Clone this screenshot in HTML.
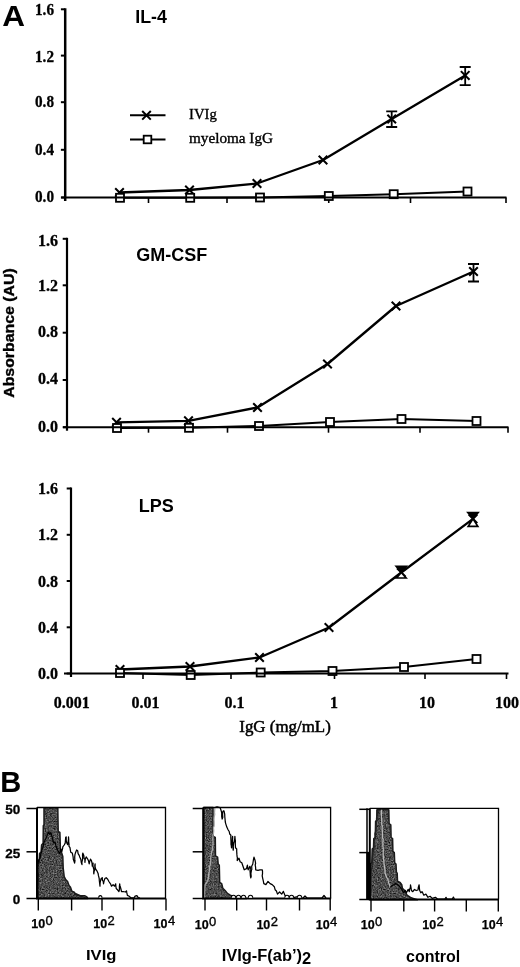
<!DOCTYPE html>
<html><head><meta charset="utf-8"><title>Figure</title>
<style>html,body{margin:0;padding:0;background:#fff}svg{display:block}</style></head>
<body>
<svg width="520" height="967" viewBox="0 0 520 967">
<rect width="520" height="967" fill="#fff"/>
<defs><filter id="nz" x="0" y="0" width="100%" height="100%" color-interpolation-filters="sRGB"><feTurbulence type="fractalNoise" baseFrequency="0.75" numOctaves="2" seed="11" result="n"/><feColorMatrix in="n" type="matrix" values="0.4 0.4 0.4 0 -0.3  0.4 0.4 0.4 0 -0.3  0.4 0.4 0.4 0 -0.3  0 0 0 0 1" result="g"/><feComposite in="g" in2="SourceGraphic" operator="in"/></filter></defs>
<text x="2.8" y="25.5" font-family="'Liberation Sans', sans-serif" font-size="30" font-weight="bold" text-anchor="start" transform="translate(2.8 0) scale(1.05 1) translate(-3.3 0)">A</text>
<text x="0.2" y="792.3" font-family="'Liberation Sans', sans-serif" font-size="30" font-weight="bold" text-anchor="start" transform="scale(0.97 1)">B</text>
<path d="M65.2 8.3V201.0" stroke="#000" stroke-width="2.5" fill="none"/>
<path d="M60.900000000000006 197.5H65.2" stroke="#000" stroke-width="2"/>
<text x="54.0" y="202.5" font-family="'Liberation Serif', serif" font-size="16" font-weight="bold" text-anchor="end" stroke="#000" stroke-width="0.3" transform="translate(54 0) scale(0.95 1) translate(-54 0)">0.0</text>
<path d="M60.900000000000006 149.8H65.2" stroke="#000" stroke-width="2"/>
<text x="54.0" y="155.5" font-family="'Liberation Serif', serif" font-size="16" font-weight="bold" text-anchor="end" stroke="#000" stroke-width="0.3" transform="translate(54 0) scale(0.95 1) translate(-54 0)">0.4</text>
<path d="M60.900000000000006 102.2H65.2" stroke="#000" stroke-width="2"/>
<text x="54.0" y="107.5" font-family="'Liberation Serif', serif" font-size="16" font-weight="bold" text-anchor="end" stroke="#000" stroke-width="0.3" transform="translate(54 0) scale(0.95 1) translate(-54 0)">0.8</text>
<path d="M60.900000000000006 55.6H65.2" stroke="#000" stroke-width="2"/>
<text x="54.0" y="62.5" font-family="'Liberation Serif', serif" font-size="16" font-weight="bold" text-anchor="end" stroke="#000" stroke-width="0.3" transform="translate(54 0) scale(0.95 1) translate(-54 0)">1.2</text>
<path d="M60.900000000000006 9.3H65.2" stroke="#000" stroke-width="2"/>
<text x="54.0" y="14.8" font-family="'Liberation Serif', serif" font-size="16" font-weight="bold" text-anchor="end" stroke="#000" stroke-width="0.3" transform="translate(54 0) scale(0.95 1) translate(-54 0)">1.6</text>
<path d="M148.5 197.5V203.0" stroke="#000" stroke-width="1.6"/>
<path d="M227 197.5V203.0" stroke="#000" stroke-width="1.6"/>
<path d="M328.75 197.5V203.0" stroke="#000" stroke-width="1.6"/>
<path d="M410.5 197.5V203.0" stroke="#000" stroke-width="1.6"/>
<path d="M506 197.5V203.0" stroke="#000" stroke-width="1.6"/>
<text x="135.3" y="23.2" font-family="'Liberation Sans', sans-serif" font-size="17.8" font-weight="bold" text-anchor="start" >IL-4</text>
<polyline points="120.0,197.8 190.2,197.8 260.0,197.5 328.8,196.0 393.7,194.2 467.5,191.5" fill="none" stroke="#000" stroke-width="2" stroke-linejoin="round"/>
<polyline points="119.5,192.5 189.5,190.0 257.0,183.5 323.0,160.0 391.7,119.0 465.2,75.4" fill="none" stroke="#000" stroke-width="2.3" stroke-linejoin="round"/>
<path d="M391.7 111.4V127.0M386.2 111.4H397.2M386.2 127.0H397.2" stroke="#000" stroke-width="1.8" fill="none"/>
<path d="M465.2 67.0V85.2M459.7 67.0H470.7M459.7 85.2H470.7" stroke="#000" stroke-width="1.8" fill="none"/>
<path d="M115.2 188.2L123.8 196.8M115.2 196.8L123.8 188.2" stroke="#000" stroke-width="2.0" fill="none"/>
<path d="M185.2 185.7L193.8 194.3M185.2 194.3L193.8 185.7" stroke="#000" stroke-width="2.0" fill="none"/>
<path d="M252.7 179.2L261.3 187.8M252.7 187.8L261.3 179.2" stroke="#000" stroke-width="2.0" fill="none"/>
<path d="M318.7 155.7L327.3 164.3M318.7 164.3L327.3 155.7" stroke="#000" stroke-width="2.0" fill="none"/>
<path d="M387.4 114.7L396.0 123.3M387.4 123.3L396.0 114.7" stroke="#000" stroke-width="2.0" fill="none"/>
<path d="M460.9 71.1L469.5 79.7M460.9 79.7L469.5 71.1" stroke="#000" stroke-width="2.0" fill="none"/>
<rect x="116.0" y="193.8" width="8.0" height="8.0" fill="#fff" stroke="#000" stroke-width="1.8"/>
<rect x="186.2" y="193.8" width="8.0" height="8.0" fill="#fff" stroke="#000" stroke-width="1.8"/>
<rect x="256.0" y="193.5" width="8.0" height="8.0" fill="#fff" stroke="#000" stroke-width="1.8"/>
<rect x="324.8" y="192.0" width="8.0" height="8.0" fill="#fff" stroke="#000" stroke-width="1.8"/>
<rect x="389.7" y="190.2" width="8.0" height="8.0" fill="#fff" stroke="#000" stroke-width="1.8"/>
<rect x="463.5" y="187.5" width="8.0" height="8.0" fill="#fff" stroke="#000" stroke-width="1.8"/>
<path d="M61.2 197.5H506.5" stroke="#000" stroke-width="2" fill="none"/>
<path d="M67 237.8V430.7" stroke="#000" stroke-width="2.2" fill="none"/>
<path d="M62.7 427.2H67" stroke="#000" stroke-width="2"/>
<text x="58.0" y="431.5" font-family="'Liberation Serif', serif" font-size="16" font-weight="bold" text-anchor="end" stroke="#000" stroke-width="0.3">0.0</text>
<path d="M62.7 380.0H67" stroke="#000" stroke-width="2"/>
<text x="58.0" y="384.3" font-family="'Liberation Serif', serif" font-size="16" font-weight="bold" text-anchor="end" stroke="#000" stroke-width="0.3">0.4</text>
<path d="M62.7 332.7H67" stroke="#000" stroke-width="2"/>
<text x="58.0" y="336.5" font-family="'Liberation Serif', serif" font-size="16" font-weight="bold" text-anchor="end" stroke="#000" stroke-width="0.3">0.8</text>
<path d="M62.7 285.3H67" stroke="#000" stroke-width="2"/>
<text x="58.0" y="291.3" font-family="'Liberation Serif', serif" font-size="16" font-weight="bold" text-anchor="end" stroke="#000" stroke-width="0.3">1.2</text>
<path d="M62.7 238.8H67" stroke="#000" stroke-width="2"/>
<text x="58.0" y="246.2" font-family="'Liberation Serif', serif" font-size="16" font-weight="bold" text-anchor="end" stroke="#000" stroke-width="0.3">1.6</text>
<path d="M148.5 427.2V432.7" stroke="#000" stroke-width="1.6"/>
<path d="M227.5 427.2V432.7" stroke="#000" stroke-width="1.6"/>
<path d="M328.5 427.2V432.7" stroke="#000" stroke-width="1.6"/>
<path d="M420 427.2V432.7" stroke="#000" stroke-width="1.6"/>
<path d="M508 427.2V432.7" stroke="#000" stroke-width="1.6"/>
<text x="136.3" y="261.3" font-family="'Liberation Sans', sans-serif" font-size="18" font-weight="bold" text-anchor="start" >GM-CSF</text>
<polyline points="117.0,428.0 189.0,427.8 259.0,426.0 330.0,422.0 401.5,419.0 476.5,421.0" fill="none" stroke="#000" stroke-width="2" stroke-linejoin="round"/>
<polyline points="116.5,422.3 188.5,420.8 257.5,407.5 327.5,364.0 396.0,306.0 473.5,271.5" fill="none" stroke="#000" stroke-width="2.3" stroke-linejoin="round"/>
<path d="M473.5 264.0V281.5M468.0 264.0H479.0M468.0 281.5H479.0" stroke="#000" stroke-width="1.8" fill="none"/>
<path d="M112.2 418.0L120.8 426.6M112.2 426.6L120.8 418.0" stroke="#000" stroke-width="2.0" fill="none"/>
<path d="M184.2 416.5L192.8 425.1M184.2 425.1L192.8 416.5" stroke="#000" stroke-width="2.0" fill="none"/>
<path d="M253.2 403.2L261.8 411.8M253.2 411.8L261.8 403.2" stroke="#000" stroke-width="2.0" fill="none"/>
<path d="M323.2 359.7L331.8 368.3M323.2 368.3L331.8 359.7" stroke="#000" stroke-width="2.0" fill="none"/>
<path d="M391.7 301.7L400.3 310.3M391.7 310.3L400.3 301.7" stroke="#000" stroke-width="2.0" fill="none"/>
<path d="M469.2 267.2L477.8 275.8M469.2 275.8L477.8 267.2" stroke="#000" stroke-width="2.0" fill="none"/>
<rect x="113.0" y="424.0" width="8.0" height="8.0" fill="#fff" stroke="#000" stroke-width="1.8"/>
<rect x="185.0" y="423.8" width="8.0" height="8.0" fill="#fff" stroke="#000" stroke-width="1.8"/>
<rect x="255.0" y="422.0" width="8.0" height="8.0" fill="#fff" stroke="#000" stroke-width="1.8"/>
<rect x="326.0" y="418.0" width="8.0" height="8.0" fill="#fff" stroke="#000" stroke-width="1.8"/>
<rect x="397.5" y="415.0" width="8.0" height="8.0" fill="#fff" stroke="#000" stroke-width="1.8"/>
<rect x="472.5" y="417.0" width="8.0" height="8.0" fill="#fff" stroke="#000" stroke-width="1.8"/>
<path d="M63 427.2H508.5" stroke="#000" stroke-width="2" fill="none"/>
<path d="M71 487.5V677.0" stroke="#000" stroke-width="2.2" fill="none"/>
<path d="M66.7 673.5H71" stroke="#000" stroke-width="2"/>
<text x="58.0" y="679.0" font-family="'Liberation Serif', serif" font-size="16" font-weight="bold" text-anchor="end" stroke="#000" stroke-width="0.3">0.0</text>
<path d="M66.7 627.3H71" stroke="#000" stroke-width="2"/>
<text x="58.0" y="632.8" font-family="'Liberation Serif', serif" font-size="16" font-weight="bold" text-anchor="end" stroke="#000" stroke-width="0.3">0.4</text>
<path d="M66.7 581.0H71" stroke="#000" stroke-width="2"/>
<text x="58.0" y="586.5" font-family="'Liberation Serif', serif" font-size="16" font-weight="bold" text-anchor="end" stroke="#000" stroke-width="0.3">0.8</text>
<path d="M66.7 534.8H71" stroke="#000" stroke-width="2"/>
<text x="58.0" y="540.3" font-family="'Liberation Serif', serif" font-size="16" font-weight="bold" text-anchor="end" stroke="#000" stroke-width="0.3">1.2</text>
<path d="M66.7 488.5H71" stroke="#000" stroke-width="2"/>
<text x="58.0" y="494.0" font-family="'Liberation Serif', serif" font-size="16" font-weight="bold" text-anchor="end" stroke="#000" stroke-width="0.3">1.6</text>
<path d="M143 673.5V679.0" stroke="#000" stroke-width="1.6"/>
<path d="M231 673.5V679.0" stroke="#000" stroke-width="1.6"/>
<path d="M334.5 673.5V679.0" stroke="#000" stroke-width="1.6"/>
<path d="M425 673.5V679.0" stroke="#000" stroke-width="1.6"/>
<path d="M506.5 673.5V679.0" stroke="#000" stroke-width="1.6"/>
<text x="138.7" y="511.6" font-family="'Liberation Sans', sans-serif" font-size="18" font-weight="bold" text-anchor="start" >LPS</text>
<polyline points="120.0,673.0 190.7,675.0 260.7,672.5 332.5,671.0 404.0,667.0 476.5,659.0" fill="none" stroke="#000" stroke-width="2" stroke-linejoin="round"/>
<polyline points="120.0,669.5 190.0,666.5 259.5,657.5 329.0,627.5 401.3,572.5 473.0,518.8" fill="none" stroke="#000" stroke-width="2.3" stroke-linejoin="round"/>
<path d="M115.7 665.2L124.3 673.8M115.7 673.8L124.3 665.2" stroke="#000" stroke-width="2.0" fill="none"/>
<path d="M185.7 662.2L194.3 670.8M185.7 670.8L194.3 662.2" stroke="#000" stroke-width="2.0" fill="none"/>
<path d="M255.2 653.2L263.8 661.8M255.2 661.8L263.8 653.2" stroke="#000" stroke-width="2.0" fill="none"/>
<path d="M324.7 623.2L333.3 631.8M324.7 631.8L333.3 623.2" stroke="#000" stroke-width="2.0" fill="none"/>
<path d="M397.0 568.2L405.6 576.8M397.0 576.8L405.6 568.2" stroke="#000" stroke-width="2.0" fill="none"/>
<path d="M468.7 514.5L477.3 523.1M468.7 523.1L477.3 514.5" stroke="#000" stroke-width="2.0" fill="none"/>
<rect x="116.0" y="669.0" width="8.0" height="8.0" fill="#fff" stroke="#000" stroke-width="1.8"/>
<rect x="186.7" y="671.0" width="8.0" height="8.0" fill="#fff" stroke="#000" stroke-width="1.8"/>
<rect x="256.7" y="668.5" width="8.0" height="8.0" fill="#fff" stroke="#000" stroke-width="1.8"/>
<rect x="328.5" y="667.0" width="8.0" height="8.0" fill="#fff" stroke="#000" stroke-width="1.8"/>
<rect x="400.0" y="663.0" width="8.0" height="8.0" fill="#fff" stroke="#000" stroke-width="1.8"/>
<rect x="472.5" y="655.0" width="8.0" height="8.0" fill="#fff" stroke="#000" stroke-width="1.8"/>
<path d="M64 673.5H508.5" stroke="#000" stroke-width="2" fill="none"/>
<path d="M395.90000000000003 566.3H406.7L401.3 572.5Z" fill="#000" stroke="#000" stroke-width="1.4"/>
<path d="M396.5 578H406.1L401.3 572.5Z" fill="#fff" stroke="#000" stroke-width="1.7" stroke-linejoin="miter"/>
<path d="M467.6 512.5H478.4L473 518.8Z" fill="#000" stroke="#000" stroke-width="1.4"/>
<path d="M468.2 526.3H477.8L473 518.8Z" fill="#fff" stroke="#000" stroke-width="1.7" stroke-linejoin="miter"/>
<path d="M130 115.3H165.5M130 139.5H165.5" stroke="#000" stroke-width="2"/>
<path d="M142.2 111.0L150.8 119.6M142.2 119.6L150.8 111.0" stroke="#000" stroke-width="2.0" fill="none"/>
<rect x="143.7" y="135.7" width="7.6" height="7.6" fill="#fff" stroke="#000" stroke-width="1.8"/>
<text x="189.0" y="118.8" font-family="'Liberation Serif', serif" font-size="14.7" font-weight="normal" text-anchor="start" stroke="#000" stroke-width="0.35">IVIg</text>
<text x="189.0" y="142.8" font-family="'Liberation Serif', serif" font-size="14.3" font-weight="normal" text-anchor="start" stroke="#000" stroke-width="0.35" textLength="84" lengthAdjust="spacingAndGlyphs">myeloma IgG</text>
<text transform="translate(14.2 397.8) rotate(-90)" font-family="'Liberation Sans', sans-serif" font-size="15.3" font-weight="bold" stroke="#000" stroke-width="0.35" textLength="129.5" lengthAdjust="spacingAndGlyphs">Absorbance (AU)</text>
<text x="71.7" y="707.6" font-family="'Liberation Serif', serif" font-size="16" font-weight="bold" text-anchor="middle" stroke="#000" stroke-width="0.3">0.001</text>
<text x="145.5" y="707.6" font-family="'Liberation Serif', serif" font-size="16" font-weight="bold" text-anchor="middle" stroke="#000" stroke-width="0.3">0.01</text>
<text x="234.5" y="707.6" font-family="'Liberation Serif', serif" font-size="16" font-weight="bold" text-anchor="middle" stroke="#000" stroke-width="0.3">0.1</text>
<text x="334.0" y="707.6" font-family="'Liberation Serif', serif" font-size="16" font-weight="bold" text-anchor="middle" stroke="#000" stroke-width="0.3">1</text>
<text x="427.0" y="707.6" font-family="'Liberation Serif', serif" font-size="16" font-weight="bold" text-anchor="middle" stroke="#000" stroke-width="0.3">10</text>
<text x="507.0" y="707.6" font-family="'Liberation Serif', serif" font-size="16" font-weight="bold" text-anchor="middle" stroke="#000" stroke-width="0.3">100</text>
<text x="239.3" y="732.0" font-family="'Liberation Serif', serif" font-size="16.5" font-weight="normal" text-anchor="start" stroke="#000" stroke-width="0.5" textLength="91.5" lengthAdjust="spacingAndGlyphs">IgG (mg/mL)</text>
<polygon filter="url(#nz)" points="37.8,898.4 37.8,864.2 39.2,862.3 39.5,853.7 41.1,851.7 41.6,845.0 43.1,843.1 43.3,825.8 44.0,824.8 44.0,807.7 57.8,807.7 58.0,820.0 58.2,831.5 59.9,832.5 60.4,848.8 62.8,856.5 63.2,868.1 64.2,876.7 65.7,879.6 67.6,881.5 69.0,885.4 70.5,887.3 71.9,891.2 74.3,892.1 75.3,894.0 77.2,895.0 80.1,896.0 82.0,896.4 74.6,893.1 76.9,895.1 80.0,895.7 84.6,895.7 86.9,896.9 87.7,898.5 37.8,898.5" fill="#4a4a4a" stroke="none" stroke-width="0" stroke-linejoin="round"/>
<polygon points="37.8,898.4 37.8,864.2 39.2,862.3 39.5,853.7 41.1,851.7 41.6,845.0 43.1,843.1 43.3,825.8 44.0,824.8 44.0,807.7 57.8,807.7 58.0,820.0 58.2,831.5 59.9,832.5 60.4,848.8 62.8,856.5 63.2,868.1 64.2,876.7 65.7,879.6 67.6,881.5 69.0,885.4 70.5,887.3 71.9,891.2 74.3,892.1 75.3,894.0 77.2,895.0 80.1,896.0 82.0,896.4 74.6,893.1 76.9,895.1 80.0,895.7 84.6,895.7 86.9,896.9 87.7,898.5 37.8,898.5" fill="none" stroke="#1a1a1a" stroke-width="1.5" stroke-linejoin="round"/>
<polyline points="37.8,898.4 37.6,895.7 37.9,893.6 37.8,892.1 37.5,890.3 37.4,888.2 37.5,885.6 37.7,884.9 37.5,881.8 37.9,881.1 37.8,878.1 38.1,875.5 38.0,873.9 37.5,871.6 37.6,870.8 37.5,868.4 37.9,866.0 37.8,864.2 38.4,861.5 38.7,859.9 39.7,858.5 40.5,856.1 40.8,854.1 41.6,851.7 42.2,848.8 43.1,847.0 43.5,844.0 44.3,841.8 45.5,839.2 46.4,837.5 47.4,834.4 48.8,832.0 49.8,834.4 50.8,832.5 51.7,835.4 52.7,839.2 53.6,843.1 55.1,842.1 56.0,846.0 57.0,848.8 58.4,851.7 59.9,853.7 60.5,850.9 60.8,848.8 61.8,851.7 62.6,848.6 62.8,846.9 64.2,845.0 65.2,843.1 65.4,840.7 65.7,837.3 66.2,836.9 66.2,839.0 66.3,841.3 66.9,843.1 67.7,844.6 68.1,842.2 68.5,839.2 68.5,836.9 68.7,839.4 68.7,841.5 69.1,844.6 68.9,846.2 70.0,847.7 70.4,850.3 70.8,852.3 72.3,853.1 73.1,856.9 73.3,859.3 74.2,861.9 74.6,863.1 75.0,860.7 74.8,859.4 74.7,857.0 75.0,854.4 75.4,853.1 76.6,850.0 77.7,850.8 78.1,853.6 79.2,855.4 79.7,856.9 80.8,859.2 81.3,862.6 82.0,864.6 81.9,862.2 82.3,860.7 82.7,858.3 82.5,855.2 82.8,853.1 83.8,855.4 84.1,858.4 84.9,859.4 84.9,862.3 85.3,859.1 86.2,856.9 87.4,858.5 88.5,860.8 89.2,863.8 89.7,861.5 90.5,859.2 91.5,860.8 92.0,863.0 92.3,866.2 93.1,863.1 92.9,865.1 93.3,867.5 93.9,869.9 93.7,871.9 93.8,873.8 94.2,871.0 94.6,870.4 94.9,868.4 94.8,865.7 95.1,863.8 95.1,866.8 95.7,869.2 96.9,870.8 98.2,873.8 98.4,875.4 99.2,878.5 99.3,880.4 99.6,882.8 100.0,886.2 100.1,883.0 100.5,880.8 101.2,878.5 102.3,877.7 102.4,880.4 103.2,881.2 103.5,883.8 104.1,880.9 104.9,878.5 106.2,877.7 107.7,879.2 108.9,881.5 110.5,883.8 111.5,886.2 113.1,884.6 114.6,886.2 115.7,883.8 115.8,885.5 116.2,888.5 117.7,890.0 118.9,891.5 119.4,889.9 119.4,886.4 119.7,883.8 119.9,885.4 120.8,888.5 121.5,891.5 123.1,891.5 125.4,892.0 126.5,890.8 126.8,892.7 127.4,895.4 129.2,896.2 130.8,897.7 133.8,898.2 135.1,896.2 136.9,895.7 138.2,897.7 140.0,898.2" fill="none" stroke="#000" stroke-width="1.25" stroke-linejoin="round"/>
<path d="M37 807.5H165.5V898.5" stroke="#000" stroke-width="1.3" fill="none"/>
<path d="M37 807.5V898.5H166.0" stroke="#000" stroke-width="2" fill="none"/>
<path d="M26.5 808.5H37" stroke="#000" stroke-width="1.5"/>
<path d="M26.5 851.8H37" stroke="#000" stroke-width="1.5"/>
<path d="M26.5 898.5H37" stroke="#000" stroke-width="1.5"/>
<path d="M38.3 898.5V910.5" stroke="#000" stroke-width="1.4"/>
<path d="M71.6 898.5V910.5" stroke="#000" stroke-width="1.4"/>
<path d="M102 898.5V910.5" stroke="#000" stroke-width="1.4"/>
<path d="M133.5 898.5V910.5" stroke="#000" stroke-width="1.4"/>
<path d="M166 898.5V910.5" stroke="#000" stroke-width="1.4"/>
<text x="31.3" y="928.4" font-family="'Liberation Sans', sans-serif" font-size="12.5" font-weight="bold" stroke="#000" stroke-width="0.25">10<tspan dx="0.4" dy="-3.1" font-size="13" font-weight="normal" stroke="#000" stroke-width="0.35">0</tspan></text>
<text x="93.3" y="928.4" font-family="'Liberation Sans', sans-serif" font-size="12.5" font-weight="bold" stroke="#000" stroke-width="0.25">10<tspan dx="0.4" dy="-3.1" font-size="13" font-weight="normal" stroke="#000" stroke-width="0.35">2</tspan></text>
<text x="153.6" y="928.4" font-family="'Liberation Sans', sans-serif" font-size="12.5" font-weight="bold" stroke="#000" stroke-width="0.25">10<tspan dx="0.4" dy="-3.1" font-size="13" font-weight="normal" stroke="#000" stroke-width="0.35">4</tspan></text>
<text x="86.0" y="960.2" font-family="'Liberation Sans', sans-serif" font-size="15" font-weight="bold" text-anchor="start" textLength="30.5" lengthAdjust="spacingAndGlyphs">IVIg</text>
<polygon filter="url(#nz)" points="203.8,898.6 203.8,807.5 213.0,807.5 213.2,836.3 215.3,837.5 215.5,855.9 217.6,857.1 218.2,864.0 219.3,865.2 219.7,882.5 221.7,883.6 222.8,888.2 225.1,890.5 227.4,893.4 230.3,895.2 232.6,896.3 236.1,896.9 244.2,897.5 246.5,898.6" fill="#4a4a4a" stroke="none" stroke-width="0" stroke-linejoin="round"/>
<polygon points="203.8,898.6 203.8,807.5 213.0,807.5 213.2,836.3 215.3,837.5 215.5,855.9 217.6,857.1 218.2,864.0 219.3,865.2 219.7,882.5 221.7,883.6 222.8,888.2 225.1,890.5 227.4,893.4 230.3,895.2 232.6,896.3 236.1,896.9 244.2,897.5 246.5,898.6" fill="none" stroke="#1a1a1a" stroke-width="1.5" stroke-linejoin="round"/>
<polyline points="204.3,898.6 204.7,895.7 204.2,894.8 204.7,891.1 204.8,888.5 204.8,887.9 204.9,884.8 206.7,882.5 207.8,880.5 208.4,877.8 208.5,875.3 208.7,873.7 209.3,871.4 209.5,868.6 209.6,866.0 210.2,865.3 210.5,862.9 210.7,860.7 210.7,858.2 210.9,856.2 211.5,853.3 211.6,851.8 212.4,850.2 212.3,848.4 212.9,845.8 213.0,844.7 213.1,841.4 212.7,839.1 213.0,837.5 212.9,834.9 213.4,834.1 213.7,831.4 213.7,829.9 213.4,827.7 214.2,825.9 214.2,823.3 214.2,821.3 214.0,819.5 214.2,817.2 214.8,814.2 214.5,812.9 214.8,809.2 214.7,807.5" fill="none" stroke="#aaa" stroke-width="1.25" stroke-linejoin="round"/>
<polyline points="214.7,807.5 217.1,806.8 219.9,807.5 220.5,808.6 221.4,811.5 221.7,813.2 221.7,816.7 222.2,819.0 222.8,817.3 222.6,815.0 222.7,812.1 223.2,810.9 224.0,810.9 224.7,814.1 224.8,816.7 225.1,819.8 225.3,822.0 225.7,823.6 226.8,827.1 228.2,830.0 229.2,831.5 229.7,834.0 230.9,835.2 230.8,836.9 230.9,839.5 231.0,841.4 231.0,844.4 231.3,845.7 231.5,847.8 231.8,846.3 231.9,844.0 232.2,841.0 232.4,837.7 232.6,836.3 232.7,838.0 232.4,841.5 232.7,843.2 233.2,845.6 233.0,847.9 233.2,850.2 233.4,848.6 233.3,846.2 233.6,843.7 234.0,842.1 234.7,839.2 234.9,836.3 235.1,839.1 235.4,840.8 235.3,843.2 235.4,845.9 235.5,847.8 236.7,849.0 236.7,851.4 236.9,854.4 237.1,856.6 237.4,857.8 237.2,860.5 239.0,858.2 240.1,861.7 241.8,862.8 243.0,866.3 244.2,869.8 246.5,868.6 247.4,865.2 247.8,868.3 248.2,869.8 249.9,866.3 250.4,868.0 250.0,870.8 250.2,872.8 250.4,875.8 250.8,877.8 251.2,876.3 250.9,873.6 251.4,870.3 251.8,869.5 251.7,866.3 252.8,864.0 253.0,862.5 253.5,859.4 254.0,857.1 255.1,860.5 255.6,863.4 255.2,865.0 255.6,867.2 255.7,869.8 258.0,870.3 259.9,869.8 262.3,869.8 262.5,871.1 262.5,873.9 262.2,875.9 262.7,878.3 263.3,880.9 263.8,883.6 265.9,884.6 268.0,881.4 270.1,883.6 272.2,884.6 274.3,886.7 275.1,889.7 276.4,891.0 277.5,894.1 279.6,892.0 281.7,894.1 283.4,891.4 284.4,894.1 284.9,895.2 287.0,896.9 289.1,897.7 291.3,896.9 293.4,897.7 296.5,896.9 299.7,896.3 300.8,898.4 303.0,898.0 305.0,896.0 307.0,898.0 322.0,898.0 324.0,895.5 326.0,898.0" fill="none" stroke="#000" stroke-width="1.25" stroke-linejoin="round"/>
<path d="M203.2 807.5H330.6V898.5" stroke="#000" stroke-width="1.3" fill="none"/>
<path d="M203.2 807.5V898.5H331.1" stroke="#000" stroke-width="2" fill="none"/>
<path d="M192.7 808.5H203.2" stroke="#000" stroke-width="1.5"/>
<path d="M192.7 851.8H203.2" stroke="#000" stroke-width="1.5"/>
<path d="M192.7 898.5H203.2" stroke="#000" stroke-width="1.5"/>
<path d="M205 898.5V910.5" stroke="#000" stroke-width="1.4"/>
<path d="M236.7 898.5V910.5" stroke="#000" stroke-width="1.4"/>
<path d="M266.5 898.5V910.5" stroke="#000" stroke-width="1.4"/>
<path d="M299.5 898.5V910.5" stroke="#000" stroke-width="1.4"/>
<path d="M330.2 898.5V910.5" stroke="#000" stroke-width="1.4"/>
<text x="194.8" y="928.8" font-family="'Liberation Sans', sans-serif" font-size="12.5" font-weight="bold" stroke="#000" stroke-width="0.25">10<tspan dx="0.4" dy="-3.1" font-size="13" font-weight="normal" stroke="#000" stroke-width="0.35">0</tspan></text>
<text x="256.4" y="928.8" font-family="'Liberation Sans', sans-serif" font-size="12.5" font-weight="bold" stroke="#000" stroke-width="0.25">10<tspan dx="0.4" dy="-3.1" font-size="13" font-weight="normal" stroke="#000" stroke-width="0.35">2</tspan></text>
<text x="315.8" y="928.8" font-family="'Liberation Sans', sans-serif" font-size="12.5" font-weight="bold" stroke="#000" stroke-width="0.25">10<tspan dx="0.4" dy="-3.1" font-size="13" font-weight="normal" stroke="#000" stroke-width="0.35">4</tspan></text>
<polygon filter="url(#nz)" points="370.1,899.8 370.1,864.0 371.8,862.8 372.2,849.0 373.5,847.8 373.8,838.6 375.3,837.5 375.6,821.3 376.8,820.2 377.0,809.8 388.8,809.8 389.1,823.6 390.8,824.8 391.1,837.5 392.6,838.6 392.9,851.3 394.3,852.5 394.7,862.8 396.0,864.0 396.4,872.1 397.2,873.2 397.5,881.3 400.1,882.5 401.8,884.8 402.4,888.2 404.7,890.5 407.0,895.2 410.5,897.5 413.9,898.6 417.4,899.8" fill="#4a4a4a" stroke="none" stroke-width="0" stroke-linejoin="round"/>
<polygon points="370.1,899.8 370.1,864.0 371.8,862.8 372.2,849.0 373.5,847.8 373.8,838.6 375.3,837.5 375.6,821.3 376.8,820.2 377.0,809.8 388.8,809.8 389.1,823.6 390.8,824.8 391.1,837.5 392.6,838.6 392.9,851.3 394.3,852.5 394.7,862.8 396.0,864.0 396.4,872.1 397.2,873.2 397.5,881.3 400.1,882.5 401.8,884.8 402.4,888.2 404.7,890.5 407.0,895.2 410.5,897.5 413.9,898.6 417.4,899.8" fill="none" stroke="#1a1a1a" stroke-width="1.5" stroke-linejoin="round"/>
<polyline points="370.7,899.8 370.4,897.3 370.4,896.2 370.6,893.0 370.8,892.3 371.1,889.1 370.7,888.3 371.0,885.8 370.7,882.6 371.2,881.3 370.8,880.1 371.2,877.9 370.9,875.9 371.2,873.2 371.1,871.6 371.7,868.3 372.0,867.1 372.0,863.3 372.4,861.7 372.6,858.9 372.6,856.5 372.8,854.2 373.2,852.1 373.5,850.2 374.0,847.5 374.0,845.0 374.1,842.4 374.3,840.0 374.7,838.6 375.1,836.4 374.9,834.0 375.7,831.0 375.8,829.3 375.8,827.1 376.0,825.4 376.1,822.5 376.5,821.0 376.5,818.4 376.8,815.5 377.0,812.9 377.0,809.8" fill="none" stroke="#222" stroke-width="1.25" stroke-linejoin="round"/>
<polyline points="381.6,809.8 381.6,811.8 381.4,813.7 381.4,817.1 381.6,818.4 381.8,821.3 381.7,824.2 382.4,826.2 382.1,827.8 382.3,830.5 382.5,832.8 382.4,834.9 382.6,838.0 383.2,839.4 382.8,842.3 382.9,843.4 382.8,845.6 383.2,848.0 383.3,850.2 383.2,852.5 383.2,854.3 383.4,856.9 383.5,858.5 383.9,861.7 384.0,863.5 384.4,866.4 384.8,868.9 385.0,871.6 385.1,873.2 385.9,875.2 386.8,877.8 388.0,879.5 388.5,882.5 389.6,885.0 390.3,887.1" fill="none" stroke="#bbb" stroke-width="1.25" stroke-linejoin="round"/>
<polyline points="390.3,887.1 392.0,885.9 393.7,884.8 395.5,883.6 397.8,884.8 400.1,887.1 401.8,889.4 403.5,892.8 405.3,890.5 406.4,892.8 408.2,889.4 409.3,891.7 409.4,890.0 410.4,887.3 410.5,884.8 411.1,888.2 411.4,890.5 412.8,891.7 414.5,889.4 416.2,890.5 418.0,890.0 418.3,887.4 419.1,884.8 419.4,888.3 419.7,890.5 420.8,892.8 422.0,891.7 422.3,892.0 423.8,895.2 425.9,894.1 428.0,897.3 430.1,896.3 432.2,898.4 435.4,897.3 437.5,899.0 444.9,899.0 446.0,897.3 447.0,899.0 448.1,899.0 452.3,899.0 453.4,897.1 454.4,899.0" fill="none" stroke="#000" stroke-width="1.25" stroke-linejoin="round"/>
<path d="M369.8 808.3H498.5V899.5" stroke="#000" stroke-width="1.3" fill="none"/>
<path d="M369.8 808.3V899.5H499.0" stroke="#000" stroke-width="2" fill="none"/>
<path d="M359.3 809.3H369.8" stroke="#000" stroke-width="1.5"/>
<path d="M359.3 852.6H369.8" stroke="#000" stroke-width="1.5"/>
<path d="M359.3 899.5H369.8" stroke="#000" stroke-width="1.5"/>
<path d="M371 899.5V911.5" stroke="#000" stroke-width="1.4"/>
<path d="M403.8 899.5V911.5" stroke="#000" stroke-width="1.4"/>
<path d="M434.6 899.5V911.5" stroke="#000" stroke-width="1.4"/>
<path d="M466.3 899.5V911.5" stroke="#000" stroke-width="1.4"/>
<path d="M498.3 899.5V911.5" stroke="#000" stroke-width="1.4"/>
<text x="360.8" y="929.4" font-family="'Liberation Sans', sans-serif" font-size="12.5" font-weight="bold" stroke="#000" stroke-width="0.25">10<tspan dx="0.4" dy="-3.1" font-size="13" font-weight="normal" stroke="#000" stroke-width="0.35">0</tspan></text>
<text x="422.3" y="929.4" font-family="'Liberation Sans', sans-serif" font-size="12.5" font-weight="bold" stroke="#000" stroke-width="0.25">10<tspan dx="0.4" dy="-3.1" font-size="13" font-weight="normal" stroke="#000" stroke-width="0.35">2</tspan></text>
<text x="481.7" y="929.4" font-family="'Liberation Sans', sans-serif" font-size="12.5" font-weight="bold" stroke="#000" stroke-width="0.25">10<tspan dx="0.4" dy="-3.1" font-size="13" font-weight="normal" stroke="#000" stroke-width="0.35">4</tspan></text>
<text x="406.0" y="961.8" font-family="'Liberation Sans', sans-serif" font-size="16" font-weight="bold" text-anchor="start" >control</text>
<path d="M367 808.3V899.5" stroke="#000" stroke-width="1.5"/>
<path d="M368.2 852V899.5" stroke="#000" stroke-width="3.6"/>
<path d="M231.3 897.8Q231.3 895.2 233.5 895.2T235.7 897.8" fill="#fff" stroke="#000" stroke-width="1.1"/>
<path d="M236.3 897.8Q236.3 895.2 238.5 895.2T240.7 897.8" fill="#fff" stroke="#000" stroke-width="1.1"/>
<path d="M241.3 897.8Q241.3 895.2 243.5 895.2T245.7 897.8" fill="#fff" stroke="#000" stroke-width="1.1"/>
<path d="M248.3 897.8Q248.3 895.2 250.5 895.2T252.7 897.8" fill="#fff" stroke="#000" stroke-width="1.1"/>
<path d="M284.8 897.8Q284.8 895.2 287.0 895.2T289.2 897.8" fill="#fff" stroke="#000" stroke-width="1.1"/>
<path d="M289.3 897.8Q289.3 895.2 291.5 895.2T293.7 897.8" fill="#fff" stroke="#000" stroke-width="1.1"/>
<path d="M297.3 897.8Q297.3 895.2 299.5 895.2T301.7 897.8" fill="#fff" stroke="#000" stroke-width="1.1"/>
<path d="M98.7 897.8Q98.7 895.6 100.3 895.6T101.9 897.8" fill="#fff" stroke="#000" stroke-width="1.1"/>
<text x="20.3" y="814.2" font-family="'Liberation Sans', sans-serif" font-size="13.5" font-weight="bold" text-anchor="end" stroke="#000" stroke-width="0.3">50</text>
<text x="20.3" y="858.4" font-family="'Liberation Sans', sans-serif" font-size="13.5" font-weight="bold" text-anchor="end" stroke="#000" stroke-width="0.3">25</text>
<text x="20.3" y="903.8" font-family="'Liberation Sans', sans-serif" font-size="13.5" font-weight="bold" text-anchor="end" stroke="#000" stroke-width="0.3">0</text>
<text x="221.7" y="960.5" font-family="'Liberation Sans', sans-serif" font-size="15.6" font-weight="bold" textLength="89.5" lengthAdjust="spacingAndGlyphs">IVIg-F(ab’)<tspan dy="3.7">2</tspan></text>
</svg>
</body></html>
